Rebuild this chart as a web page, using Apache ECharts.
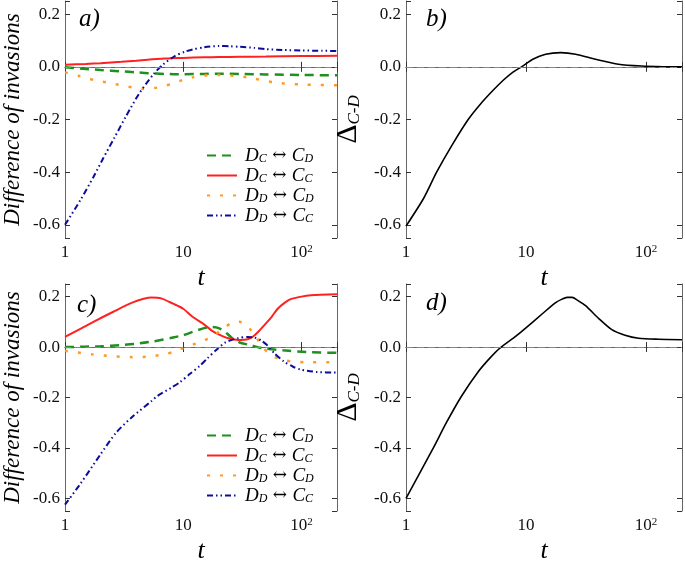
<!DOCTYPE html>
<html><head><meta charset="utf-8">
<script src="https://cdn.jsdelivr.net/npm/echarts@6/dist/echarts.min.js"></script>
<style>html,body{margin:0;padding:0;background:#fff}#c{width:685px;height:565px}</style>
</head><body><div id="c"></div>
<script>
// ---- data (t, value) ----
const xTickValues = [1, 10, 100];
const yTickValues = [-0.6, -0.4, -0.2, 0.0, 0.2];
const panelLabels = ['a)', 'b)', 'c)', 'd)'];
const seriesNames = ['DC_CD', 'DC_CC', 'DD_CD', 'DD_CC'];

// panel a
const aGreen = [[1,-0.002],[1.5,-0.008],[2,-0.012],[3,-0.017],[4,-0.021],[5,-0.024],[7,-0.027],[10,-0.028],[15,-0.027],[20,-0.026],[30,-0.027],[50,-0.029],[100,-0.031],[200,-0.032]];
const aRed = [[1,0.008],[1.5,0.011],[2,0.014],[3,0.019],[4,0.023],[5,0.027],[6,0.030],[7,0.032],[8,0.033],[10,0.034],[15,0.036],[20,0.037],[30,0.038],[50,0.039],[100,0.041],[200,0.042]];
const aOrange = [[1,-0.021],[1.3,-0.034],[1.75,-0.05],[2.25,-0.059],[3,-0.07],[3.7,-0.078],[4.6,-0.084],[6,-0.079],[8,-0.065],[10,-0.049],[12,-0.04],[15,-0.033],[20,-0.031],[30,-0.036],[40,-0.045],[60,-0.06],[100,-0.067],[200,-0.07]];
const aBlue = [[1,-0.6],[1.35,-0.506],[1.74,-0.418],[2.1,-0.348],[2.62,-0.269],[3.27,-0.189],[4.22,-0.103],[5.6,-0.028],[6.8,0.010],[8.5,0.041],[10.3,0.057],[12,0.066],[15,0.074],[20,0.079],[25,0.078],[30,0.076],[40,0.072],[50,0.067],[70,0.064],[100,0.062],[150,0.061],[200,0.06]];

// panel b
const bDelta = [[1,-0.605],[1.4,-0.5],[1.8,-0.4],[2.4,-0.3],[3.3,-0.2],[4.2,-0.14],[5.3,-0.09],[6.5,-0.05],[7.8,-0.02],[9.2,0],[11.4,0.029],[14.6,0.048],[19.5,0.054],[26,0.048],[38,0.029],[59,0.01],[92,0.003],[140,0.0005],[200,0]];

// panel c
const cGreen = [[1,0],[2,0.003],[3,0.008],[4,0.013],[5.5,0.022],[8,0.037],[10,0.047],[12,0.06],[15,0.075],[17,0.08],[19,0.078],[21,0.07],[23,0.057],[26,0.035],[30,0.018],[36,0.009],[46,-0.004],[70,-0.013],[110,-0.02],[200,-0.023]];
const cRed = [[1,0.04],[1.74,0.1],[2.54,0.139],[3.7,0.176],[5.4,0.196],[6.5,0.193],[8.2,0.172],[10,0.152],[12,0.12],[15,0.09],[17.7,0.063],[21,0.045],[24,0.035],[28,0.029],[31,0.028],[35,0.031],[38,0.038],[43,0.06],[49,0.089],[56,0.12],[63,0.152],[72,0.175],[81,0.19],[100,0.2],[120,0.205],[200,0.209]];
const cOrange = [[1,-0.015],[1.7,-0.029],[2.5,-0.036],[3.7,-0.04],[5.4,-0.037],[7,-0.028],[8.3,-0.019],[10.6,0],[13.7,0.019],[17,0.038],[21.4,0.07],[26,0.097],[30,0.1],[33,0.094],[38,0.063],[42,0.035],[46,0.006],[55,-0.032],[72,-0.053],[110,-0.06],[200,-0.06]];
const cBlue = [[1,-0.625],[1.35,-0.542],[2,-0.425],[2.7,-0.34],[3.7,-0.277],[5.4,-0.214],[6,-0.195],[8,-0.16],[9.4,-0.139],[11.5,-0.105],[13.7,-0.076],[16,-0.045],[18.9,-0.013],[22.8,0.019],[29,0.035],[35,0.04],[40,0.038],[46,0.025],[52,0.005],[59,-0.025],[71,-0.057],[85,-0.078],[98,-0.089],[135,-0.099],[200,-0.101]];

// panel d
const dDelta = [[1,-0.6],[1.69,-0.4],[2.17,-0.3],[2.9,-0.195],[4,-0.098],[5,-0.044],[6,-0.006],[8.3,0.044],[10,0.076],[13.7,0.132],[17.7,0.176],[20,0.19],[22,0.197],[24.3,0.197],[27,0.185],[31.4,0.164],[40.5,0.113],[52,0.069],[67,0.047],[87,0.035],[127,0.031],[200,0.029]];

// ---- styling ----
const SERIF = '"Liberation Serif","DejaVu Serif",serif';
const grids = [
  {left: 59, top: 1, width: 278, height: 237},
  {left: 406, top: 1, width: 278, height: 237},
  {left: 59, top: 284, width: 278, height: 238},
  {left: 406, top: 284, width: 278, height: 238}
];
const styles = {
  DC_CD: {color: '#1f8f1f', width: 2.5, type: [9, 6]},
  DC_CC: {color: '#ff2020', width: 2, type: 'solid'},
  DD_CD: {color: '#ff9a26', width: 2.5, type: [3, 10]},
  DD_CC: {color: '#0c0c9c', width: 2, type: [6, 3, 1.5, 3, 1.5, 3]}
};
const legendText = {
  DC_CD: '{i|D}{s|C}{a| ↔ }{i|C}{s|D}',
  DC_CC: '{i|D}{s|C}{a| ↔ }{i|C}{s|C}',
  DD_CD: '{i|D}{s|D}{a| ↔ }{i|C}{s|D}',
  DD_CC: '{i|D}{s|D}{a| ↔ }{i|C}{s|C}'
};

function xfmt(v) {
  const e = Math.round(Math.log10(v));
  if (Math.abs(v - Math.pow(10, e)) > 1e-6 * v) return '';
  if (!xTickValues.includes(Math.pow(10, e))) return '';
  return e === 0 ? '1' : e === 1 ? '10' : '10{sup|' + e + '}';
}
function yfmt(v) {
  const hit = yTickValues.find(t => Math.abs(t - v) < 1e-6);
  if (hit === undefined) return '';
  return Math.abs(hit) < 1e-9 ? '0.0' : hit.toFixed(1);
}

const xAxes = [], yAxes = [];
grids.forEach((g, gi) => {
  const common = {
    gridIndex: gi, type: 'log', logBase: 10, min: 1, max: 200,
    axisLine: {show: true, lineStyle: {color: '#666', width: 1}},
    axisTick: {show: true, inside: true, length: 5, lineStyle: {color: '#333'}},
    splitLine: {show: false}, minorTick: {show: false}
  };
  xAxes.push(Object.assign({}, common, {
    position: 'bottom',
    name: 't', nameLocation: 'middle', nameGap: 27,
    nameTextStyle: {fontFamily: SERIF, fontStyle: 'italic', fontSize: 26, color: '#000'},
    axisLabel: {show: true, margin: 6, formatter: xfmt, fontFamily: SERIF, fontSize: 17, color: '#111',
      rich: {sup: {fontFamily: SERIF, fontSize: 11, verticalAlign: 'top', color: '#111'}}}
  }));
  xAxes.push(Object.assign({}, common, {position: 'top', axisLabel: {show: false}}));
  const ycommon = {
    gridIndex: gi, type: 'value', min: -0.65, max: 0.25, splitNumber: 5,
    axisLine: {show: true, lineStyle: {color: '#666', width: 1}},
    axisTick: {show: true, inside: true, length: 5, lineStyle: {color: '#333'}},
    splitLine: {show: false}
  };
  const isDelta = gi % 2 === 1;
  yAxes.push(Object.assign({}, ycommon, {
    position: 'left',
    name: isDelta ? '{d|Δ}{s|C-D}' : 'Difference of invasions',
    nameLocation: 'middle', nameGap: isDelta ? 43 : 41,
    nameTextStyle: isDelta ? {
      fontFamily: SERIF, color: '#000',
      rich: {
        d: {fontFamily: SERIF, fontSize: 30, color: '#000', lineHeight: 30},
        s: {fontFamily: SERIF, fontSize: 17, fontStyle: 'italic', color: '#000', verticalAlign: 'bottom', lineHeight: 14}
      }
    } : {fontFamily: SERIF, fontStyle: 'italic', fontSize: 23, color: '#000'},
    axisLabel: {show: true, margin: 5, formatter: yfmt, fontFamily: SERIF, fontSize: 17, color: '#111'}
  }));
  yAxes.push(Object.assign({}, ycommon, {position: 'right', axisLabel: {show: false}}));
});

const zeroLine = {
  silent: true, symbol: 'none', label: {show: false},
  lineStyle: {color: '#888', type: [6, 4], width: 1.2},
  data: [{yAxis: 0}]
};

function lineSeries(name, data, gi, style) {
  return {
    name: name, type: 'line', data: data, xAxisIndex: gi * 2, yAxisIndex: gi * 2,
    symbol: 'none', smooth: 0.25,
    lineStyle: {color: style.color, width: style.width, type: style.type},
    itemStyle: {color: 'rgba(0,0,0,0)'}, z: 3
  };
}

const series = [];
const panelA = [aGreen, aRed, aOrange, aBlue];
const panelC = [cGreen, cRed, cOrange, cBlue];
function zeroHolder(gi, ml) {
  return {type: 'line', name: 'zero' + gi, data: [], xAxisIndex: gi * 2, yAxisIndex: gi * 2, symbol: 'none', z: 1, markLine: ml};
}
const zeroB = Object.assign({}, zeroLine, {lineStyle: {color: '#888', type: [7, 4], width: 1.2}});
series.push(zeroHolder(0, zeroLine), zeroHolder(1, zeroB), zeroHolder(2, zeroLine), zeroHolder(3, zeroB));
seriesNames.forEach((n, i) => series.push(lineSeries(n, panelA[i], 0, styles[n])));
seriesNames.forEach((n, i) => series.push(lineSeries(n, panelC[i], 2, styles[n])));
const black = {color: '#000', width: 1.6, type: 'solid'};
series.push(lineSeries('delta_b', bDelta, 1, black));
series.push(lineSeries('delta_d', dDelta, 3, black));

function makeLegend(top) {
  return {
    data: seriesNames, orient: 'vertical', left: 201, top: top,
    itemWidth: 30, itemHeight: 12, itemGap: 1, selectedMode: false,
    itemStyle: {opacity: 0},
    formatter: n => legendText[n],
    textStyle: {
      fontFamily: SERIF, fontSize: 18, color: '#000', lineHeight: 18, padding: [0, 0, 0, 3],
      rich: {
        i: {fontFamily: SERIF, fontStyle: 'italic', fontSize: 19, color: '#000', lineHeight: 18},
        s: {fontFamily: SERIF, fontStyle: 'italic', fontSize: 12, color: '#000', verticalAlign: 'bottom', lineHeight: 12},
        a: {fontFamily: '"DejaVu Serif",serif', fontSize: 17, color: '#000', lineHeight: 18}
      }
    }
  };
}

const titles = [
  {text: panelLabels[0], left: 74, top: 2},
  {text: panelLabels[1], left: 421, top: 2},
  {text: panelLabels[2], left: 72, top: 288},
  {text: panelLabels[3], left: 421, top: 286}
].map(t => Object.assign(t, {textStyle: {fontFamily: SERIF, fontStyle: 'italic', fontWeight: 'normal', fontSize: 25, color: '#000'}}));

const chart = echarts.init(document.getElementById('c'), null, {renderer: 'canvas'});
chart.setOption({
  animation: false,
  backgroundColor: '#fff',
  title: titles,
  grid: grids,
  xAxis: xAxes,
  yAxis: yAxes,
  legend: [makeLegend(141), makeLegend(421)],
  series: series
});
</script>
</body></html>
